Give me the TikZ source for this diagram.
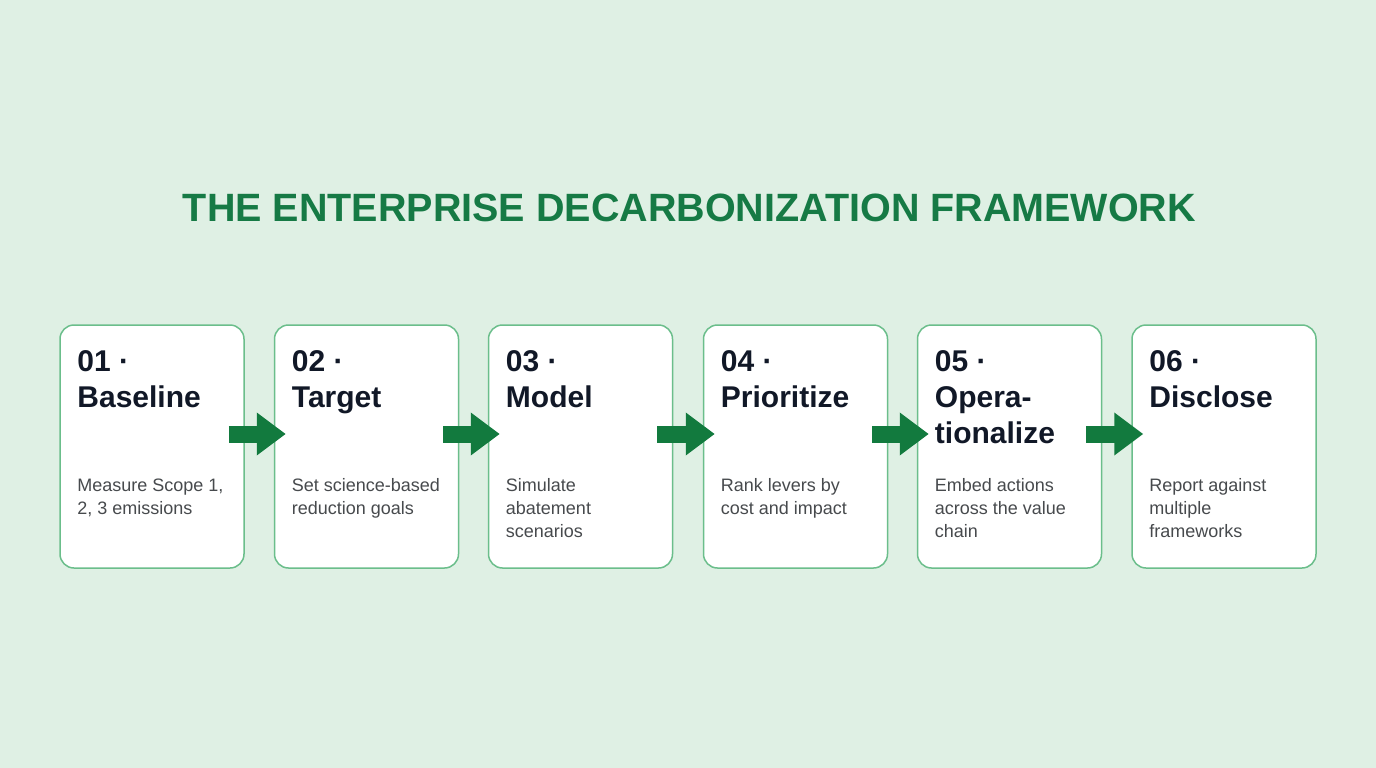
\documentclass[tikz,border=0pt]{standalone}
\usepackage{fontspec}
\setmainfont{Liberation Sans}
\usetikzlibrary{arrows.meta}
\definecolor{bg}{HTML}{DFF0E4}
\definecolor{cardline}{HTML}{6BBE8B}
\definecolor{titlegreen}{HTML}{167A45}
\definecolor{arrowgreen}{HTML}{127A3E}
\definecolor{ink}{HTML}{111827}
\definecolor{bodygray}{HTML}{474A4D}
\tikzset{
  card/.style={draw=cardline, fill=white, rounded corners=14pt, line width=1.5pt,
    minimum width=184pt, minimum height=243pt, inner sep=0pt},
  hd/.style={anchor=base west, inner sep=0pt, text=ink, font=\fontsize{30}{36}\selectfont\bfseries},
  bd/.style={anchor=base west, inner sep=0pt, text=bodygray, font=\fontsize{18}{23}\selectfont},
  flow/.style={draw=arrowgreen, line width=17pt, -{Triangle[length=29pt,width=41pt]}},
  ttl/.style={inner sep=0pt, anchor=base, text=titlegreen, font=\fontsize{39.5}{44}\selectfont\bfseries}
}
\begin{document}
\begin{tikzpicture}[x=1pt,y=-1pt]
\fill[bg] (0,0) rectangle (1376,768);
\useasboundingbox (0,0) rectangle (1376,768);

\node[ttl] (title) at (689.5,221) {THE ENTERPRISE DECARBONIZATION FRAMEWORK};

\node[card] (b1) at (152,446.5) {};
\node[card] (b2) at (366.5,446.5) {};
\node[card] (b3) at (580.5,446.5) {};
\node[card] (b4) at (795.5,446.5) {};
\node[card] (b5) at (1009.5,446.5) {};
\node[card] (b6) at (1224,446.5) {};

% headings
\node[hd] (b1h1) at ([xshift=18pt,yshift=-47pt]b1.north west) {01 ·};
\node[hd] (b1h2) at ([xshift=18pt,yshift=-83pt]b1.north west) {Baseline};
\node[hd] (b2h1) at ([xshift=18pt,yshift=-47pt]b2.north west) {02 ·};
\node[hd] (b2h2) at ([xshift=18pt,yshift=-83pt]b2.north west) {Target};
\node[hd] (b3h1) at ([xshift=18pt,yshift=-47pt]b3.north west) {03 ·};
\node[hd] (b3h2) at ([xshift=18pt,yshift=-83pt]b3.north west) {Model};
\node[hd] (b4h1) at ([xshift=18pt,yshift=-47pt]b4.north west) {04 ·};
\node[hd] (b4h2) at ([xshift=18pt,yshift=-83pt]b4.north west) {Prioritize};
\node[hd] (b5h1) at ([xshift=18pt,yshift=-47pt]b5.north west) {05 ·};
\node[hd] (b5h2) at ([xshift=18pt,yshift=-83pt]b5.north west) {Opera-};
\node[hd] (b5h3) at ([xshift=18pt,yshift=-119pt]b5.north west) {tionalize};
\node[hd] (b6h1) at ([xshift=18pt,yshift=-47pt]b6.north west) {06 ·};
\node[hd] (b6h2) at ([xshift=18pt,yshift=-83pt]b6.north west) {Disclose};

% bodies
\node[bd] (b1t1) at ([xshift=18pt,yshift=-167pt]b1.north west) {Measure Scope 1,};
\node[bd] (b1t2) at ([xshift=18pt,yshift=-190pt]b1.north west) {2, 3 emissions};
\node[bd] (b2t1) at ([xshift=18pt,yshift=-167pt]b2.north west) {Set science-based};
\node[bd] (b2t2) at ([xshift=18pt,yshift=-190pt]b2.north west) {reduction goals};
\node[bd] (b3t1) at ([xshift=18pt,yshift=-167pt]b3.north west) {Simulate};
\node[bd] (b3t2) at ([xshift=18pt,yshift=-190pt]b3.north west) {abatement};
\node[bd] (b3t3) at ([xshift=18pt,yshift=-213pt]b3.north west) {scenarios};
\node[bd] (b4t1) at ([xshift=18pt,yshift=-167pt]b4.north west) {Rank levers by};
\node[bd] (b4t2) at ([xshift=18pt,yshift=-190pt]b4.north west) {cost and impact};
\node[bd] (b5t1) at ([xshift=18pt,yshift=-167pt]b5.north west) {Embed actions};
\node[bd] (b5t2) at ([xshift=18pt,yshift=-190pt]b5.north west) {across the value};
\node[bd] (b5t3) at ([xshift=18pt,yshift=-213pt]b5.north west) {chain};
\node[bd] (b6t1) at ([xshift=18pt,yshift=-167pt]b6.north west) {Report against};
\node[bd] (b6t2) at ([xshift=18pt,yshift=-190pt]b6.north west) {multiple};
\node[bd] (b6t3) at ([xshift=18pt,yshift=-213pt]b6.north west) {frameworks};

% arrows
\draw[flow] ([xshift=-16pt,yshift=12.5pt]b1.east) -- ([xshift=12pt,yshift=12.5pt]b2.west);
\draw[flow] ([xshift=-16pt,yshift=12.5pt]b2.east) -- ([xshift=12pt,yshift=12.5pt]b3.west);
\draw[flow] ([xshift=-16pt,yshift=12.5pt]b3.east) -- ([xshift=12pt,yshift=12.5pt]b4.west);
\draw[flow] ([xshift=-16pt,yshift=12.5pt]b4.east) -- ([xshift=12pt,yshift=12.5pt]b5.west);
\draw[flow] ([xshift=-16pt,yshift=12.5pt]b5.east) -- ([xshift=12pt,yshift=12.5pt]b6.west);
\end{tikzpicture}
\end{document}
